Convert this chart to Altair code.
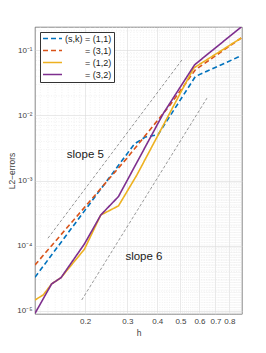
import altair as alt
import pandas as pd

# ---- data ----
labels = ["(1,1)", "(3,1)", "(1,2)", "(3,2)"]
PAD = "\u200b" + "\u00a0" * 8
legend_names = ["(s,k) = (1,1)", PAD + "= (3,1)", PAD + "= (1,2)", PAD + "= (3,2)"]
colors = ["#0072BD", "#D95319", "#EDB120", "#7E2F8E"]
dashes = [[5, 3], [5, 3], [1, 0], [1, 0]]

h_11 = [0.1236, 0.3216, 0.3565, 0.403, 0.577, 0.896]
e_11 = [3.27e-5, 3.67e-3, 4.66e-3, 5.05e-3, 0.0398, 0.0829]

h_31 = [0.1236, 0.2989, 0.4535, 0.577, 0.896]
e_31 = [5.05e-5, 2.21e-3, 0.01462, 0.0505, 0.155]

h_12 = [0.1236, 0.1338, 0.145, 0.1587, 0.1987, 0.2326, 0.2756, 0.329, 0.5676, 0.896]
e_12 = [1.46e-5, 1.75e-5, 2.58e-5, 3.22e-5, 8.8e-5, 2.96e-4, 4.08e-4, 1.22e-3, 0.0536, 0.155]

h_32 = [0.1236, 0.145, 0.1587, 0.1987, 0.2326, 0.2756, 0.425, 0.573, 0.896]
e_32 = [9.1e-6, 2.58e-5, 3.22e-5, 1.06e-4, 2.96e-4, 5.68e-4, 0.0109, 0.0603, 0.229]

ref5_h = [0.14, 0.508]
ref5_e = [1.30e-4, 0.072]
ref6_h = [0.1936, 0.645]
ref6_e = [1.46e-5, 0.0185]

slope_text = ["slope 5", "slope 6"]
slope_h = [0.2005, 0.352]
slope_e = [2.48e-3, 6.64e-5]

x_ticks = [0.2, 0.3, 0.4, 0.5, 0.6, 0.7, 0.8]
y_ticks = [1e-5, 1e-4, 1e-3, 1e-2, 1e-1]
x_minor = [round(0.13 + 0.01 * i, 2) for i in range(77)]
x_minor = [v for v in x_minor if v not in x_ticks]
y_minor = [k * 10.0 ** n for n in range(-6, 0) for k in range(2, 10)]

x_domain = [0.1236, 0.903]
y_domain = [8.9e-6, 0.229]

# ---- tables ----
rows = []
for lab, name, hs, es in zip(labels, legend_names, [h_11, h_31, h_12, h_32], [e_11, e_31, e_12, e_32]):
    for h, e in zip(hs, es):
        rows.append({"series": name, "h": h, "e": e})
df = pd.DataFrame(rows)

ref = pd.DataFrame(
    [{"ref": "s5", "h": h, "e": e} for h, e in zip(ref5_h, ref5_e)]
    + [{"ref": "s6", "h": h, "e": e} for h, e in zip(ref6_h, ref6_e)]
)
txt = pd.DataFrame({"t": slope_text, "h": slope_h, "e": slope_e})
xm = pd.DataFrame({"h": x_minor})
ym = pd.DataFrame({"e": [v for v in y_minor if y_domain[0] <= v <= y_domain[1]]})

FONT = "Liberation Sans"
xs = alt.Scale(type="log", domain=x_domain, nice=False)
ys = alt.Scale(type="log", domain=y_domain, nice=False)

xaxis = alt.Axis(
    values=x_ticks, format=".1f", title="h", grid=True, gridColor="#dadada", gridWidth=0.6,
    ticks=False, domain=False, labelFontSize=8, labelColor="#404040", labelPadding=3,
    titleFontSize=8.5, titleFontWeight="normal", titleColor="#404040", titlePadding=3,
    labelFont=FONT, titleFont=FONT, labelFlush=False,
)
yaxis = alt.Axis(
    values=y_ticks,
    labelExpr="'10' + ['\u2070','\u207b\u00b9','\u207b\u00b2','\u207b\u00b3','\u207b\u2074','\u207b\u2075'][round(-log(datum.value)/LN10)]",
    title="L2\u2212errors", grid=True, gridColor="#dadada", gridWidth=0.6,
    ticks=False, domain=False, labelFontSize=8, labelColor="#404040", labelPadding=3,
    titleFontSize=8.5, titleFontWeight="normal", titleColor="#404040", titlePadding=0,
    labelFont=FONT, titleFont=FONT, labelFlush=False,
)

X = alt.X("h:Q", scale=xs, axis=xaxis)
Y = alt.Y("e:Q", scale=ys, axis=yaxis)

minor_x = alt.Chart(xm).mark_rule(color="#e2e2e2", strokeWidth=0.5, strokeDash=[1, 1.5]).encode(x=X)
minor_y = alt.Chart(ym).mark_rule(color="#e2e2e2", strokeWidth=0.5, strokeDash=[1, 1.5]).encode(y=Y)

ref_lines = alt.Chart(ref).mark_line(color="#555555", strokeWidth=0.6, strokeDash=[3, 2]).encode(
    x=X, y=Y, detail="ref:N"
)

texts = alt.Chart(txt).mark_text(font=FONT, fontSize=11.5, color="#1a1a1a").encode(x=X, y=Y, text="t:N")

leg = alt.Legend(
    title=None, orient="none", legendX=5, legendY=5, symbolType="stroke",
    symbolSize=361, symbolStrokeWidth=1.6, labelFontSize=9, labelFont=FONT,
    labelColor="#1a1a1a", labelOffset=2, padding=2, rowPadding=2, clipHeight=9,
    strokeColor="#333333", fillColor="white", cornerRadius=0, labelLimit=200,
)

lines = alt.Chart(df).mark_line(strokeWidth=1.6, clip=True).encode(
    x=X,
    y=Y,
    color=alt.Color("series:N", scale=alt.Scale(domain=legend_names, range=colors), sort=legend_names, legend=leg),
    strokeDash=alt.StrokeDash("series:N", scale=alt.Scale(domain=legend_names, range=dashes), sort=legend_names, legend=leg),
    order="h:Q",
)

chart = (
    alt.layer(minor_x, minor_y, ref_lines, texts, lines)
    .properties(
        width=207, height=287,
        autosize=alt.AutoSizeParams(type="none"),
        padding={"left": 27, "top": 19, "right": 8, "bottom": 30},
        background="white",
    )
    .configure_view(stroke="#555555", strokeWidth=0.7)
)

chart.save("out.html", embed_options={"renderer": "svg", "actions": False})
